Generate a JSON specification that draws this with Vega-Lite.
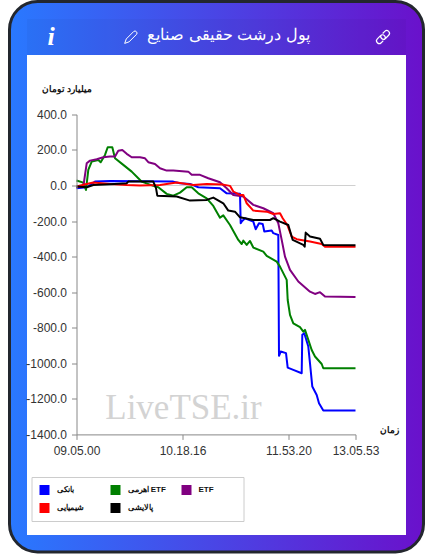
{"$schema":"https://vega.github.io/schema/vega-lite/v6.json","autosize":"none","padding":{"left":9.5,"top":1.5,"right":9.5,"bottom":7},"width":414,"height":550.5,"background":"white","view":{"stroke":"#23272e","strokeWidth":3,"cornerRadius":28,"fill":{"gradient":"linear","x1":0,"y1":0,"x2":1,"y2":0,"stops":[{"offset":0,"color":"#2979ff"},{"offset":1,"color":"#6a11cb"}]}},"title":{"text":"پول درشت حقیقی صنایع","frame":"group","anchor":"middle","orient":"top","offset":-41,"dx":12,"color":"white","font":"Liberation Sans","fontSize":16,"fontWeight":"normal"},"resolve":{"legend":{"color":"independent"}},"datasets":{"panel":[{"part":"panel","t":-49.5,"t2":329.5,"v":734.6,"v2":-1965.4}],"header":[{"part":"header","t":-49.5,"t2":329.5,"v":937,"v2":734.6}],"zero":[{"t":0,"t2":279,"v":0}],"mark":[{"label":"LiveTSE.ir","t":107,"v":-1250}],"info":[{"label":"i","t":-25.5,"v":835}],"pencil":[{"t":54.5,"v":835}],"link":[{"t":306.5,"v":835}],"series":[
{"s":"بانکی","t":0,"v":-15},{"s":"بانکی","t":10.2,"v":-10},{"s":"بانکی","t":18.5,"v":22},{"s":"بانکی","t":33.5,"v":26},{"s":"بانکی","t":96.8,"v":22},{"s":"بانکی","t":103.5,"v":13},{"s":"بانکی","t":113.5,"v":9},{"s":"بانکی","t":121.8,"v":-10},{"s":"بانکی","t":143.5,"v":-15},{"s":"بانکی","t":150.2,"v":-44},{"s":"بانکی","t":163.5,"v":-47},{"s":"بانکی","t":164.2,"v":-212},{"s":"بانکی","t":165.2,"v":-203},{"s":"بانکی","t":168.5,"v":-184},{"s":"بانکی","t":176.8,"v":-203},{"s":"بانکی","t":179.2,"v":-246},{"s":"بانکی","t":182.5,"v":-212},{"s":"بانکی","t":186.2,"v":-216},{"s":"بانکی","t":187.8,"v":-259},{"s":"بانکی","t":195.2,"v":-253},{"s":"بانکی","t":196.8,"v":-268},{"s":"بانکی","t":201.8,"v":-278},{"s":"بانکی","t":202.5,"v":-958},{"s":"بانکی","t":204.2,"v":-934},{"s":"بانکی","t":209.5,"v":-943},{"s":"بانکی","t":211.2,"v":-1024},{"s":"بانکی","t":216.8,"v":-1037},{"s":"بانکی","t":225.2,"v":-1056},{"s":"بانکی","t":225.8,"v":-840},{"s":"بانکی","t":227.8,"v":-831},{"s":"بانکی","t":231.8,"v":-906},{"s":"بانکی","t":233.5,"v":-1000},{"s":"بانکی","t":235.8,"v":-1131},{"s":"بانکی","t":240.2,"v":-1178},{"s":"بانکی","t":242.5,"v":-1225},{"s":"بانکی","t":246.8,"v":-1266},{"s":"بانکی","t":279,"v":-1266},
{"s":"اهرمی ETF","t":0,"v":28},{"s":"اهرمی ETF","t":6.8,"v":16},{"s":"اهرمی ETF","t":9.5,"v":-25},{"s":"اهرمی ETF","t":11.8,"v":88},{"s":"اهرمی ETF","t":15.2,"v":135},{"s":"اهرمی ETF","t":21.8,"v":144},{"s":"اهرمی ETF","t":24.2,"v":131},{"s":"اهرمی ETF","t":28.5,"v":172},{"s":"اهرمی ETF","t":31.2,"v":215},{"s":"اهرمی ETF","t":35.8,"v":215},{"s":"اهرمی ETF","t":38.5,"v":153},{"s":"اهرمی ETF","t":46.8,"v":116},{"s":"اهرمی ETF","t":55.2,"v":78},{"s":"اهرمی ETF","t":61.8,"v":41},{"s":"اهرمی ETF","t":65.2,"v":22},{"s":"اهرمی ETF","t":76.8,"v":-2},{"s":"اهرمی ETF","t":81.8,"v":-10},{"s":"اهرمی ETF","t":90.2,"v":-47},{"s":"اهرمی ETF","t":96.8,"v":-57},{"s":"اهرمی ETF","t":103.5,"v":-40},{"s":"اهرمی ETF","t":110.2,"v":-10},{"s":"اهرمی ETF","t":115.2,"v":-10},{"s":"اهرمی ETF","t":121.8,"v":-44},{"s":"اهرمی ETF","t":130.2,"v":-72},{"s":"اهرمی ETF","t":136.8,"v":-115},{"s":"اهرمی ETF","t":143.5,"v":-181},{"s":"اهرمی ETF","t":146.8,"v":-168},{"s":"اهرمی ETF","t":153.5,"v":-222},{"s":"اهرمی ETF","t":161.8,"v":-306},{"s":"اهرمی ETF","t":165.2,"v":-329},{"s":"اهرمی ETF","t":166.8,"v":-310},{"s":"اهرمی ETF","t":170.2,"v":-334},{"s":"اهرمی ETF","t":173.5,"v":-312},{"s":"اهرمی ETF","t":176.8,"v":-349},{"s":"اهرمی ETF","t":186.8,"v":-372},{"s":"اهرمی ETF","t":190.2,"v":-396},{"s":"اهرمی ETF","t":200.2,"v":-428},{"s":"اهرمی ETF","t":203.5,"v":-456},{"s":"اهرمی ETF","t":210.2,"v":-531},{"s":"اهرمی ETF","t":211.2,"v":-644},{"s":"اهرمی ETF","t":213.5,"v":-728},{"s":"اهرمی ETF","t":216.8,"v":-775},{"s":"اهرمی ETF","t":223.5,"v":-797},{"s":"اهرمی ETF","t":226.8,"v":-822},{"s":"اهرمی ETF","t":228.5,"v":-812},{"s":"اهرمی ETF","t":235.2,"v":-925},{"s":"اهرمی ETF","t":238.5,"v":-962},{"s":"اهرمی ETF","t":245.2,"v":-1004},{"s":"اهرمی ETF","t":246.8,"v":-1028},{"s":"اهرمی ETF","t":279,"v":-1028},
{"s":"ETF","t":0,"v":-10},{"s":"ETF","t":6.8,"v":-6},{"s":"ETF","t":10.2,"v":125},{"s":"ETF","t":13.5,"v":140},{"s":"ETF","t":20.2,"v":148},{"s":"ETF","t":26.8,"v":159},{"s":"ETF","t":33.5,"v":163},{"s":"ETF","t":38.5,"v":163},{"s":"ETF","t":41.8,"v":196},{"s":"ETF","t":45.8,"v":200},{"s":"ETF","t":50.2,"v":178},{"s":"ETF","t":55.2,"v":159},{"s":"ETF","t":63.5,"v":159},{"s":"ETF","t":68.5,"v":153},{"s":"ETF","t":71.8,"v":131},{"s":"ETF","t":78.5,"v":121},{"s":"ETF","t":83.5,"v":97},{"s":"ETF","t":90.2,"v":84},{"s":"ETF","t":96.8,"v":84},{"s":"ETF","t":111.8,"v":78},{"s":"ETF","t":115.2,"v":60},{"s":"ETF","t":123.5,"v":60},{"s":"ETF","t":131.8,"v":41},{"s":"ETF","t":143.5,"v":18},{"s":"ETF","t":150.2,"v":-15},{"s":"ETF","t":156.8,"v":-53},{"s":"ETF","t":166.8,"v":-62},{"s":"ETF","t":176.8,"v":-109},{"s":"ETF","t":186.8,"v":-128},{"s":"ETF","t":196.8,"v":-156},{"s":"ETF","t":201.8,"v":-212},{"s":"ETF","t":205.2,"v":-306},{"s":"ETF","t":208.5,"v":-400},{"s":"ETF","t":213.5,"v":-475},{"s":"ETF","t":221.8,"v":-540},{"s":"ETF","t":233.5,"v":-597},{"s":"ETF","t":238.5,"v":-610},{"s":"ETF","t":243.5,"v":-600},{"s":"ETF","t":248.5,"v":-625},{"s":"ETF","t":279,"v":-627},
{"s":"شیمیایی","t":0,"v":-6},{"s":"شیمیایی","t":10.2,"v":9},{"s":"شیمیایی","t":16.8,"v":17},{"s":"شیمیایی","t":33.5,"v":9},{"s":"شیمیایی","t":50.2,"v":3},{"s":"شیمیایی","t":63.5,"v":0},{"s":"شیمیایی","t":83.5,"v":3},{"s":"شیمیایی","t":100.2,"v":17},{"s":"شیمیایی","t":116.8,"v":3},{"s":"شیمیایی","t":130.2,"v":9},{"s":"شیمیایی","t":146.8,"v":5},{"s":"شیمیایی","t":153.5,"v":-2},{"s":"شیمیایی","t":156.8,"v":-34},{"s":"شیمیایی","t":163.5,"v":-53},{"s":"شیمیایی","t":166.8,"v":-53},{"s":"شیمیایی","t":170.2,"v":-100},{"s":"شیمیایی","t":176.8,"v":-141},{"s":"شیمیایی","t":190.2,"v":-147},{"s":"شیمیایی","t":196.8,"v":-160},{"s":"شیمیایی","t":203.5,"v":-156},{"s":"شیمیایی","t":206.2,"v":-184},{"s":"شیمیایی","t":210.8,"v":-222},{"s":"شیمیایی","t":215.2,"v":-287},{"s":"شیمیایی","t":220.2,"v":-302},{"s":"شیمیایی","t":233.5,"v":-315},{"s":"شیمیایی","t":245.2,"v":-329},{"s":"شیمیایی","t":248.5,"v":-344},{"s":"شیمیایی","t":279,"v":-344},
{"s":"پالایشی","t":0,"v":-6},{"s":"پالایشی","t":10.2,"v":-10},{"s":"پالایشی","t":16.8,"v":3},{"s":"پالایشی","t":33.5,"v":7},{"s":"پالایشی","t":50.2,"v":13},{"s":"پالایشی","t":51.8,"v":22},{"s":"پالایشی","t":76.8,"v":22},{"s":"پالایشی","t":79.5,"v":-15},{"s":"پالایشی","t":80.8,"v":-57},{"s":"پالایشی","t":100.2,"v":-62},{"s":"پالایشی","t":113.5,"v":-85},{"s":"پالایشی","t":130.2,"v":-81},{"s":"پالایشی","t":136.8,"v":-68},{"s":"پالایشی","t":146.8,"v":-100},{"s":"پالایشی","t":151.8,"v":-141},{"s":"پالایشی","t":158.5,"v":-147},{"s":"پالایشی","t":163.5,"v":-179},{"s":"پالایشی","t":176.8,"v":-194},{"s":"پالایشی","t":193.5,"v":-194},{"s":"پالایشی","t":196.8,"v":-184},{"s":"پالایشی","t":203.5,"v":-203},{"s":"پالایشی","t":211.8,"v":-222},{"s":"پالایشی","t":216.2,"v":-306},{"s":"پالایشی","t":226.8,"v":-334},{"s":"پالایشی","t":228.2,"v":-344},{"s":"پالایشی","t":229.2,"v":-265},{"s":"پالایشی","t":233.5,"v":-287},{"s":"پالایشی","t":243.5,"v":-300},{"s":"پالایشی","t":246.8,"v":-334},{"s":"پالایشی","t":279,"v":-336}
]},
"encoding":{"x":{"field":"t","type":"quantitative","scale":{"domain":[0,279],"range":[67,346],"nice":false,"zero":false},"axis":{"zindex":1,"offset":-117.6,"grid":false,"values":[0,106,212,279],"labelExpr":"datum.value==0?'09.05.00':datum.value==106?'10.18.16':datum.value==212?'11.53.20':'13.05.53'","labelFont":"Liberation Sans","labelFontSize":12,"labelColor":"#333333","labelPadding":6,"labelOverlap":false,"labelFlush":false,"tickColor":"#888888","domainColor":"#888888","tickSize":5,"title":"زمان","titleFont":"Liberation Sans","titleFontSize":9,"titleFontWeight":"bold","titleColor":"#111111","titleX":379.5,"titleY":-5,"titleAlign":"center","titleBaseline":"middle","titleAngle":0}},"y":{"field":"v","type":"quantitative","scale":{"domain":[-1400,400],"range":[432.9,112.9],"nice":false,"zero":false},"axis":{"zindex":1,"offset":-67,"grid":false,"values":[400,200,0,-200,-400,-600,-800,-1000,-1200,-1400],"labelExpr":"(datum.value<0?'-':'')+format(abs(datum.value),'.1f')","labelFont":"Liberation Sans","labelFontSize":12,"labelColor":"#333333","labelPadding":5,"labelOverlap":false,"labelFlush":false,"tickColor":"#888888","domainColor":"#888888","tickSize":5,"title":"میلیارد تومان","titleFont":"Liberation Sans","titleFontSize":9,"titleFontWeight":"bold","titleColor":"#111111","titleX":-10,"titleY":86.5,"titleAlign":"center","titleBaseline":"middle","titleAngle":0}}},
"layer":[
{"data":{"name":"panel"},"mark":{"type":"rect","color":"white"},"encoding":{"x2":{"field":"t2"},"y2":{"field":"v2"}}},
{"data":{"name":"header"},"mark":{"type":"rect","color":"black","opacity":0.03},"encoding":{"x2":{"field":"t2"},"y2":{"field":"v2"}}},
{"data":{"name":"zero"},"mark":{"type":"rule","color":"#d0d0d0","strokeWidth":1},"encoding":{"x2":{"field":"t2"}}},
{"data":{"name":"mark"},"mark":{"type":"text","font":"Liberation Serif","fontSize":35,"color":"#d3d3d3","align":"center","baseline":"middle"},"encoding":{"text":{"field":"label"}}},
{"data":{"name":"series"},"mark":{"type":"line","strokeWidth":2,"interpolate":"linear","strokeJoin":"round"},"encoding":{"order":{"field":"t","type":"quantitative"},"color":{"field":"s","type":"nominal","scale":{"domain":["بانکی","اهرمی ETF","ETF","شیمیایی","پالایشی"],"range":["#0000ff","#008000","#800080","#ff0000","#000000"]},"legend":null}}},
{"data":{"name":"series"},"mark":{"type":"square","filled":true,"size":0,"opacity":1},"encoding":{"color":{"field":"s","type":"nominal","scale":{"domain":["بانکی","اهرمی ETF","ETF","شیمیایی","پالایشی"],"range":["#0000ff","#008000","#800080","#ff0000","#000000"]},"legend":{"orient":"none","direction":"horizontal","legendX":22,"legendY":475.5,"columns":3,"gridAlign":"all","title":" ","titleOrient":"right","titlePadding":22,"titleFontSize":1,"symbolType":"square","symbolSize":100,"symbolStrokeWidth":0,"symbolOffset":0,"labelFont":"Liberation Sans","labelFontSize":8,"labelFontWeight":"bold","labelColor":"#111111","labelOffset":7,"columnPadding":15,"rowPadding":8,"padding":8,"strokeColor":"#cccccc","fillColor":"white"}}}},
{"data":{"name":"info"},"mark":{"type":"text","font":"Liberation Serif","fontSize":26,"fontStyle":"italic","fontWeight":"bold","color":"white","align":"center","baseline":"middle"},"encoding":{"text":{"field":"label"}}},
{"data":{"name":"pencil"},"mark":{"type":"point","shape":"M-1 1 L-0.75 0.3 L0.45 -0.9 Q0.65 -1.05 0.85 -0.85 Q1.05 -0.65 0.9 -0.45 L-0.3 0.75 Z","size":160,"stroke":"white","strokeWidth":1,"fill":"transparent","opacity":1}},
{"data":{"name":"link"},"mark":{"type":"point","shape":"M-0.05 -0.5 L0.25 -0.8 A0.38 0.38 0 0 1 0.8 -0.25 L0.35 0.2 A0.38 0.38 0 0 1 -0.2 -0.35 M0.05 0.5 L-0.25 0.8 A0.38 0.38 0 0 1 -0.8 0.25 L-0.35 -0.2 A0.38 0.38 0 0 1 0.2 0.35","size":200,"stroke":"white","strokeWidth":1.2,"fill":"transparent","opacity":1}}
]}
